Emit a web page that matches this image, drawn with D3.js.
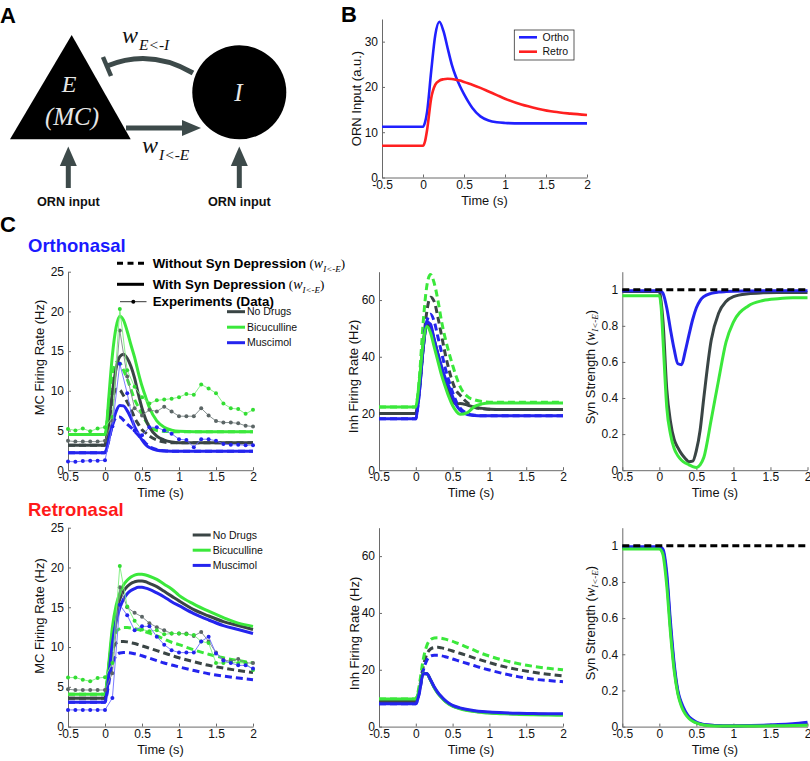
<!DOCTYPE html>
<html>
<head>
<meta charset="utf-8">
<script src="https://cdn.jsdelivr.net/npm/d3@7/dist/d3.min.js"></script>
<style>
html,body{margin:0;padding:0;background:#fff;}
svg{display:block;}
</style>
</head>
<body>
<svg id="fig" width="810" height="761" xmlns="http://www.w3.org/2000/svg"></svg>
<script>
// ================= DATA =================
const xTicks = [-0.5, 0, 0.5, 1, 1.5, 2];
const xTickLabels = ["-0.5", "0", "0.5", "1", "1.5", "2"];
const conditions = ["No Drugs", "Bicuculline", "Muscimol"];
const ornLabels = ["Ortho", "Retro"];

const ornTicks = [0, 10, 20, 30];
const mcTicks = [0, 5, 10, 15, 20, 25];
const inhTicks = [0, 20, 40, 60];
const synTicks = [0, 0.2, 0.4, 0.6, 0.8, 1];
const synTickLabels = ["0", "0.2", "0.4", "0.6", "0.8", "1"];

// model time grid (s)
const tModel = [-0.5, 0, 0.025, 0.05, 0.1, 0.15, 0.2, 0.25, 0.3, 0.35, 0.4, 0.45, 0.5, 0.55, 0.6, 0.7, 0.8, 0.9, 1.0, 1.2, 1.4, 1.6, 1.8, 2.0];
// experiment time grid (s)
const tData = [-0.5, -0.4, -0.3, -0.2, -0.1, 0, 0.1, 0.2, 0.3, 0.4, 0.5, 0.6, 0.7, 0.8, 0.9, 1.0, 1.1, 1.2, 1.3, 1.4, 1.5, 1.6, 1.7, 1.8, 1.9, 2.0];

// Panel B: ORN input
const ornOrtho = [11.2, 11.2, 12.2, 14.5, 23.5, 31.5, 34.4, 32.3, 28.6, 25, 22.3, 20.2, 18.4, 16.8, 15.4, 13.5, 12.6, 12.2, 12.05, 11.95, 11.95, 11.95, 11.95, 11.95];
const ornRetro = [7, 7, 8.0, 10.5, 17.5, 20.5, 21.4, 21.7, 21.8, 21.75, 21.6, 21.4, 21.1, 20.8, 20.5, 19.8, 19.0, 18.2, 17.4, 16.1, 15.2, 14.5, 14.1, 13.8];

// Orthonasal MC firing rate (Hz) - with syn depression (solid)
const orthoMcNodSolid = [3.15, 3.15, 4.2, 6, 9.8, 12.8, 14.3, 14.6, 14.1, 13.1, 11.6, 9.6, 7.8, 6.4, 5.4, 4.3, 3.8, 3.55, 3.45, 3.45, 3.45, 3.45, 3.45, 3.45];
const orthoMcBicSolid = [4.5, 4.5, 6, 9, 14.5, 18, 19.4, 18.9, 17.5, 15.8, 14.2, 12.3, 10.6, 9.2, 7.9, 6.2, 5.4, 5.05, 4.9, 4.85, 4.85, 4.85, 4.85, 4.85];
const orthoMcMusSolid = [2.2, 2.2, 2.8, 3.8, 5.8, 7.4, 8.15, 8.1, 7.5, 6.6, 5.5, 4.6, 3.8, 3.2, 2.85, 2.5, 2.42, 2.4, 2.4, 2.4, 2.4, 2.4, 2.4, 2.4];
// without syn depression (dashed)
const orthoMcNodDash = [3.15, 3.15, 4.2, 5.8, 8.8, 10.2, 10.1, 9.4, 8.6, 7.7, 6.6, 5.8, 5.1, 4.7, 4.3, 3.8, 3.55, 3.45, 3.45, 3.45, 3.45, 3.45, 3.45, 3.45];
const orthoMcBicDash = [4.5, 4.5, 6, 8.5, 12, 13.6, 13.5, 12.6, 11.5, 10.2, 8.9, 8.0, 7.1, 6.2, 5.6, 5.0, 4.9, 4.85, 4.85, 4.85, 4.85, 4.85, 4.85, 4.85];
const orthoMcMusDash = [2.2, 2.2, 2.8, 3.7, 5.6, 6.6, 6.7, 6.3, 5.8, 5.4, 4.9, 4.4, 3.9, 3.4, 3.0, 2.6, 2.45, 2.4, 2.4, 2.4, 2.4, 2.4, 2.4, 2.4];
// experiments
const orthoDataNod = [3.7, 3.6, 3.6, 3.6, 3.6, 3.7, 6.3, 17.6, 11.8, 7.8, 6.9, 7.6, 7.4, 8.0, 7.4, 6.8, 6.8, 6.8, 7.8, 6.9, 6.2, 6.0, 6.0, 5.9, 5.6, 5.5];
const orthoDataBic = [5.2, 5.0, 5.25, 4.9, 5.25, 5.4, 6.7, 20.3, 12.6, 10.5, 9.2, 8.4, 8.8, 8.9, 9.0, 9.2, 9.6, 9.5, 10.8, 10.3, 9.7, 8.4, 7.8, 7.7, 7.1, 7.6];
const orthoDataMus = [1.1, 1.05, 1.15, 1.2, 1.2, 1.25, 5.5, 13.4, 9.7, 5.0, 4.4, 5.4, 5.4, 5.0, 4.6, 3.9, 3.8, 2.9, 3.9, 3.9, 3.7, 3.3, 3.2, 3.2, 3.15, 3.15];

// Orthonasal Inh firing rate (Hz)
const orthoInhNodSolid = [20, 20, 23.5, 29, 43, 51.5, 50.5, 46, 41, 36, 31.5, 27.5, 24.5, 23.3, 23.5, 23.0, 22.2, 21.8, 21.5, 21.4, 21.4, 21.4, 21.4, 21.4];
const orthoInhBicSolid = [22.3, 22.3, 26, 32, 45, 50.7, 48.5, 43.5, 38.5, 33.5, 29.5, 25.8, 22.8, 20.8, 19.7, 20.3, 22.5, 23.4, 23.7, 23.7, 23.7, 23.7, 23.7, 23.7];
const orthoInhMusSolid = [18.1, 18.1, 22, 28, 43, 52.3, 51.5, 46, 41, 36.5, 32.5, 29.5, 26, 23, 21.2, 19.6, 19.3, 19.2, 19.2, 19.2, 19.2, 19.2, 19.2, 19.2];
const orthoInhNodDash = [20, 20, 23.5, 29, 44, 56, 61, 59.5, 54, 47.5, 41, 35.5, 31, 28, 26.5, 23.8, 22.2, 21.7, 21.5, 21.4, 21.4, 21.4, 21.4, 21.4];
const orthoInhBicDash = [22.3, 22.3, 26, 33, 52, 65, 69, 66, 60, 52.5, 46.5, 41.5, 37, 33, 29.6, 26, 24.8, 24.2, 24, 24, 24, 24, 24, 24];
const orthoInhMusDash = [18.1, 18.1, 22, 28, 43, 52.5, 55, 52.5, 47, 41.5, 36, 31.5, 27.5, 24.2, 22, 20, 19.4, 19.2, 19.2, 19.2, 19.2, 19.2, 19.2, 19.2];

// Orthonasal synaptic strength
const orthoSynNoDep = [1, 1, 1, 1, 1, 1, 1, 1, 1, 1, 1, 1, 1, 1, 1, 1, 1, 1, 1, 1, 1, 1, 1, 1];
const orthoSynNod = [0.99, 0.99, 0.93, 0.82, 0.45, 0.27, 0.17, 0.125, 0.09, 0.065, 0.047, 0.05, 0.11, 0.22, 0.4, 0.72, 0.87, 0.935, 0.962, 0.978, 0.983, 0.985, 0.985, 0.985];
const orthoSynBic = [0.967, 0.967, 0.9, 0.72, 0.35, 0.2, 0.12, 0.08, 0.055, 0.04, 0.03, 0.02, 0.015, 0.03, 0.07, 0.28, 0.5, 0.71, 0.82, 0.91, 0.94, 0.95, 0.955, 0.955];
const orthoSynMus = [0.995, 0.995, 0.99, 0.98, 0.9, 0.78, 0.67, 0.59, 0.585, 0.66, 0.75, 0.835, 0.9, 0.94, 0.962, 0.98, 0.987, 0.99, 0.992, 0.993, 0.994, 0.995, 0.995, 0.995];

// Retronasal MC firing rate (Hz)
const retroMcNodSolid = [3.56, 3.56, 5.0, 7.2, 11.7, 14.4, 16.0, 17.0, 17.6, 18.0, 18.2, 18.3, 18.3, 18.2, 18.0, 17.6, 17.0, 16.4, 15.8, 14.7, 13.9, 13.2, 12.7, 12.2];
const retroMcBicSolid = [4.06, 4.06, 5.5, 7.8, 12.5, 15.2, 16.8, 17.8, 18.4, 18.8, 19.05, 19.15, 19.15, 19.05, 18.9, 18.5, 17.9, 17.3, 16.5, 15.4, 14.5, 13.7, 13.0, 12.6];
const retroMcMusSolid = [3.06, 3.06, 4.3, 6.3, 10.5, 13.2, 14.9, 16.0, 16.7, 17.1, 17.35, 17.5, 17.5, 17.4, 17.25, 16.8, 16.3, 15.7, 15.2, 14.2, 13.4, 12.7, 12.2, 11.7];
const retroMcNodDash = [3.56, 3.56, 4.8, 6.5, 9.5, 10.5, 10.7, 10.7, 10.65, 10.55, 10.45, 10.3, 10.15, 10.0, 9.85, 9.55, 9.25, 8.95, 8.65, 8.15, 7.7, 7.35, 7.05, 6.8];
const retroMcBicDash = [4.06, 4.06, 5.5, 7.5, 10.8, 11.9, 12.3, 12.45, 12.45, 12.4, 12.3, 12.2, 12.05, 11.9, 11.75, 11.4, 11.0, 10.6, 10.3, 9.65, 9.1, 8.65, 8.3, 8.0];
const retroMcMusDash = [3.06, 3.06, 4.0, 5.4, 7.9, 8.9, 9.25, 9.3, 9.3, 9.25, 9.15, 9.05, 8.9, 8.75, 8.6, 8.3, 8.0, 7.75, 7.5, 7.05, 6.65, 6.35, 6.1, 5.9];
const retroDataNod = [4.7, 4.6, 4.6, 4.6, 4.6, 4.6, 6.7, 17.5, 15.0, 14.3, 13.8, 13.0, 12.5, 12.1, 11.7, 11.7, 11.7, 11.4, 11.9, 10.7, 9.3, 8.4, 8.2, 8.5, 8.0, 8.0];
const retroDataBic = [6.16, 6.16, 5.9, 5.7, 6.1, 6.2, 8.0, 20.2, 15.1, 13.3, 12.2, 12.0, 12.1, 11.6, 11.7, 11.7, 11.6, 11.5, 10.7, 10.5, 8.0, 8.0, 8.1, 8.0, 8.0, 7.1];
const retroDataMus = [2.1, 2.1, 2.1, 2.1, 2.1, 2.1, 3.6, 15.3, 14.0, 12.1, 12.6, 12.6, 11.3, 10.3, 9.6, 9.3, 9.3, 9.3, 10.7, 11.3, 9.2, 8.3, 8.0, 7.7, 7.7, 7.3];

// Retronasal Inh firing rate (Hz)
const retroInhNodSolid = [8.8, 8.8, 10.3, 12.8, 18.7, 18.6, 16.4, 13.8, 11.8, 10.3, 9.0, 8.0, 7.3, 6.8, 6.4, 5.8, 5.4, 5.1, 4.9, 4.65, 4.5, 4.4, 4.3, 4.25];
const retroInhBicSolid = [9.7, 9.7, 11, 13.5, 18.8, 18.6, 16.3, 13.7, 11.7, 10.2, 8.9, 7.9, 7.2, 6.7, 6.3, 5.7, 5.3, 5.0, 4.75, 4.5, 4.3, 4.15, 4.05, 4.0];
const retroInhMusSolid = [8.0, 8.0, 9.5, 12.2, 18.6, 18.7, 16.5, 14, 12, 10.5, 9.2, 8.2, 7.5, 7.0, 6.6, 6.0, 5.6, 5.3, 5.1, 4.85, 4.7, 4.6, 4.5, 4.5];
const retroInhNodDash = [8.8, 8.8, 10.3, 13.5, 21, 25.5, 27.3, 27.8, 27.9, 27.7, 27.4, 27.0, 26.6, 26.2, 25.8, 25.0, 24.1, 23.3, 22.5, 21.1, 20.0, 19.1, 18.4, 17.8];
const retroInhBicDash = [9.7, 9.7, 11.5, 15, 23.5, 28.5, 30.6, 31.2, 31.3, 31.1, 30.8, 30.4, 30.0, 29.5, 29.0, 27.9, 26.8, 25.7, 24.8, 23.3, 22.1, 21.2, 20.5, 20.0];
const retroInhMusDash = [8.0, 8.0, 9.5, 12.2, 19.5, 23.3, 24.8, 25.1, 25.1, 24.9, 24.6, 24.2, 23.8, 23.4, 23.0, 22.2, 21.4, 20.6, 19.9, 18.6, 17.5, 16.7, 16.2, 15.8];

// Retronasal synaptic strength
const retroSynNoDep = [1, 1, 1, 1, 1, 1, 1, 1, 1, 1, 1, 1, 1, 1, 1, 1, 1, 1, 1, 1, 1, 1, 1, 1];
const retroSynNod = [0.99, 0.99, 0.985, 0.97, 0.82, 0.55, 0.33, 0.19, 0.12, 0.078, 0.05, 0.034, 0.022, 0.015, 0.01, 0.007, 0.005, 0.004, 0.004, 0.005, 0.006, 0.008, 0.01, 0.014];
const retroSynBic = [0.982, 0.982, 0.975, 0.95, 0.78, 0.52, 0.31, 0.18, 0.11, 0.07, 0.045, 0.03, 0.02, 0.013, 0.009, 0.005, 0.004, 0.004, 0.004, 0.004, 0.004, 0.005, 0.006, 0.008];
const retroSynMus = [0.995, 0.995, 0.99, 0.98, 0.85, 0.58, 0.35, 0.2, 0.13, 0.085, 0.055, 0.038, 0.025, 0.017, 0.012, 0.008, 0.006, 0.005, 0.005, 0.006, 0.008, 0.011, 0.016, 0.024];

// ================= STYLE =================
const SANS = "'Liberation Sans', Arial, Helvetica, sans-serif";
const SERIF = "'Liberation Serif', 'DejaVu Serif', serif";
const COL = { nod: "#3a4545", bic: "#3be83b", mus: "#2424ee" };
const DCOL = { nod: "#7c8787", bic: "#7cee7c", mus: "#6c6cff" };
const DOT = { nod: "#5c6666", bic: "#33dd33", mus: "#2222ee" };
const AX = "#6a6a6a";
const ARROW = "#3d4a4a";

const svg = d3.select("#fig");

// ================= HELPERS =================
function makeAxes(o) {
  const x = d3.scaleLinear().domain([-0.5, 2]).range([o.left, o.right]);
  const y = d3.scaleLinear().domain(o.ydom).range([o.bottom, o.top]);
  const g = svg.append("g");
  const gx = g.append("g").attr("transform", `translate(0,${o.bottom})`)
    .call(d3.axisBottom(x).tickValues(xTicks).tickFormat((d, i) => xTickLabels[i])
      .tickSizeInner(-3).tickSizeOuter(0).tickPadding(2.5));
  const gy = g.append("g").attr("transform", `translate(${o.left},0)`)
    .call(d3.axisLeft(y).tickValues(o.yticks).tickFormat((d, i) => o.ylabels ? o.ylabels[i] : String(d))
      .tickSizeInner(-3).tickSizeOuter(0).tickPadding(4));
  [gx, gy].forEach(a => {
    a.selectAll("path,line").attr("stroke", AX).attr("stroke-width", 1);
    a.selectAll("text").attr("fill", "#111").style("font-family", SANS).style("font-size", "12px");
  });
  g.append("text").attr("x", (o.left + o.right) / 2).attr("y", o.bottom + 27)
    .attr("text-anchor", "middle").style("font-family", SANS).style("font-size", "12.8px")
    .attr("fill", "#111").text("Time (s)");
  return { x, y, g };
}

function ylabel(cx, cy, label) {
  return svg.append("text")
    .attr("transform", `translate(${cx + 4.6},${cy}) rotate(-90)`)
    .attr("text-anchor", "middle")
    .style("font-family", SANS).style("font-size", "13px").attr("fill", "#111")
    .text(label);
}

function synLabel(cx, cy) {
  const t = svg.append("text")
    .attr("transform", `translate(${cx + 4.6},${cy}) rotate(-90)`)
    .attr("text-anchor", "middle")
    .style("font-family", SANS).style("font-size", "13px").attr("fill", "#111");
  t.append("tspan").text("Syn Strength (");
  t.append("tspan").style("font-family", SERIF).style("font-style", "italic").style("font-size", "14px").text("w");
  t.append("tspan").style("font-family", SERIF).style("font-style", "italic").style("font-size", "9px").attr("dy", 3).text("I<-E");
  t.append("tspan").attr("dy", -3).text(")");
}

function drawLine(ax, times, vals, color, width, dash) {
  const line = d3.line().x((d, i) => ax.x(times[i])).y(d => ax.y(d)).curve(d3.curveMonotoneX);
  ax.g.append("path").datum(vals).attr("d", line).attr("fill", "none")
    .attr("stroke", color).attr("stroke-width", width)
    .attr("stroke-dasharray", dash || null).attr("stroke-linejoin", "round");
}

function drawData(ax, vals, key) {
  const line = d3.line().x((d, i) => ax.x(tData[i])).y(d => ax.y(d));
  ax.g.append("path").datum(vals).attr("d", line).attr("fill", "none")
    .attr("stroke", DCOL[key]).attr("stroke-width", 0.9);
  ax.g.selectAll(null).data(vals).enter().append("circle")
    .attr("cx", (d, i) => ax.x(tData[i])).attr("cy", d => ax.y(d)).attr("r", 2)
    .attr("fill", DOT[key]);
}

function condLegend(x0, y0, dy) {
  const keys = ["nod", "bic", "mus"];
  keys.forEach((k, i) => {
    const yy = y0 + i * dy;
    svg.append("line").attr("x1", x0).attr("x2", x0 + 18).attr("y1", yy).attr("y2", yy)
      .attr("stroke", COL[k]).attr("stroke-width", 3);
    svg.append("text").attr("x", x0 + 20).attr("y", yy + 3.7)
      .style("font-family", SANS).style("font-size", "10.5px").attr("fill", "#111").text(conditions[i]);
  });
}

function panelLabel(txt, x, y) {
  svg.append("text").attr("x", x).attr("y", y).style("font-family", SANS)
    .style("font-weight", "bold").style("font-size", "22px").attr("fill", "#000").text(txt);
}

// ================= PANEL A =================
panelLabel("A", 0, 23);
panelLabel("B", 341, 22);
panelLabel("C", 0, 231.5);

const gA = svg.append("g");
gA.append("polygon").attr("points", "71.7,35 10,139.3 130.7,139.3").attr("fill", "#000");
gA.append("circle").attr("cx", 239.3).attr("cy", 92.3).attr("r", 47).attr("fill", "#000");
gA.append("text").attr("x", 69).attr("y", 91.7).attr("text-anchor", "middle")
  .style("font-family", SERIF).style("font-style", "italic").style("font-size", "24px").attr("fill", "#e6e6e6").text("E");
gA.append("text").attr("x", 72).attr("y", 124.5).attr("text-anchor", "middle")
  .style("font-family", SERIF).style("font-style", "italic").style("font-size", "25px").attr("fill", "#e6e6e6").text("(MC)");
gA.append("text").attr("x", 238.5).attr("y", 101).attr("text-anchor", "middle")
  .style("font-family", SERIF).style("font-style", "italic").style("font-size", "25px").attr("fill", "#e6e6e6").text("I");

// inhibitory connection
gA.append("path").attr("d", "M193,73 Q150,48 107,66").attr("fill", "none").attr("stroke", ARROW).attr("stroke-width", 5);
gA.append("line").attr("x1", 103).attr("y1", 57).attr("x2", 111).attr("y2", 76).attr("stroke", ARROW).attr("stroke-width", 4.5);
// excitatory connection
gA.append("line").attr("x1", 126).attr("y1", 128).attr("x2", 186).attr("y2", 128).attr("stroke", ARROW).attr("stroke-width", 5);
gA.append("polygon").attr("points", "201,128 182,120 182,136").attr("fill", ARROW);
// ORN input arrows
[68.3, 239.3].forEach(xx => {
  gA.append("line").attr("x1", xx).attr("y1", 188).attr("x2", xx).attr("y2", 164).attr("stroke", ARROW).attr("stroke-width", 5);
  gA.append("polygon").attr("points", `${xx},146.5 ${xx - 8.5},166 ${xx + 8.5},166`).attr("fill", ARROW);
  gA.append("text").attr("x", xx).attr("y", 205.5).attr("text-anchor", "middle")
    .style("font-family", SANS).style("font-weight", "bold").style("font-size", "12.7px").attr("fill", "#111").text("ORN input");
});
function wLabel(x, y, sub) {
  const t = gA.append("text").attr("x", x).attr("y", y).style("font-family", SERIF).style("font-style", "italic").attr("fill", "#111");
  t.append("tspan").style("font-size", "24px").text("w");
  t.append("tspan").style("font-size", "15.5px").attr("dy", 7.5).attr("dx", 1).text(sub);
}
wLabel(122, 42.5, "E<-I");
wLabel(142, 152.5, "I<-E");

// ================= PANEL B =================
const axB = makeAxes({ left: 382, right: 587, top: 19, bottom: 177.5, ydom: [0, 35], yticks: ornTicks });
ylabel(356, 98.5, "ORN Input (a.u.)");
drawLine(axB, tModel, ornOrtho, "#2020ff", 2.6);
drawLine(axB, tModel, ornRetro, "#ff2020", 2.6);
svg.append("rect").attr("x", 514.3).attr("y", 30).attr("width", 59.7).attr("height", 30)
  .attr("fill", "#fff").attr("stroke", "#333").attr("stroke-width", 0.8);
[["#2020ff", 37.3], ["#ff2020", 51.7]].forEach((d, i) => {
  svg.append("line").attr("x1", 519).attr("x2", 537).attr("y1", d[1]).attr("y2", d[1]).attr("stroke", d[0]).attr("stroke-width", 2.6);
  svg.append("text").attr("x", 542.5).attr("y", d[1] + 3.7).style("font-family", SANS).style("font-size", "10.5px").attr("fill", "#111").text(ornLabels[i]);
});

// ================= PANEL C =================
svg.append("text").attr("x", 28).attr("y", 251.5).style("font-family", SANS).style("font-weight", "bold")
  .style("font-size", "18.5px").attr("fill", "#1a1aff").text("Orthonasal");
svg.append("text").attr("x", 28).attr("y", 516).style("font-family", SANS).style("font-weight", "bold")
  .style("font-size", "18.5px").attr("fill", "#ff1a1a").text("Retronasal");

const cols = [{ left: 68, right: 253 }, { left: 379, right: 563 }, { left: 622.3, right: 807.5 }];
const rows = [{ top: 271.7, bottom: 470.2 }, { top: 527.7, bottom: 726.6 }];

// ---- ortho MC
const oMC = makeAxes({ ...cols[0], ...rows[0], ydom: [0, 25], yticks: mcTicks });
ylabel(39, 357.5, "MC Firing Rate (Hz)");
drawLine(oMC, tModel, orthoMcNodDash, COL.nod, 3, "7,4");
drawLine(oMC, tModel, orthoMcBicDash, COL.bic, 3, "7,4");
drawLine(oMC, tModel, orthoMcMusDash, COL.mus, 3, "7,4");
drawLine(oMC, tModel, orthoMcNodSolid, COL.nod, 3);
drawLine(oMC, tModel, orthoMcBicSolid, COL.bic, 3);
drawLine(oMC, tModel, orthoMcMusSolid, COL.mus, 3);
drawData(oMC, orthoDataNod, "nod");
drawData(oMC, orthoDataBic, "bic");
drawData(oMC, orthoDataMus, "mus");
condLegend(227, 311.7, 15.5);

// top model legend
function modelLegendRow(y, type, label) {
  if (type === "dash") {
    svg.append("line").attr("x1", 117).attr("x2", 144).attr("y1", y).attr("y2", y)
      .attr("stroke", "#000").attr("stroke-width", 3).attr("stroke-dasharray", "6,4.5");
  } else if (type === "solid") {
    svg.append("line").attr("x1", 117).attr("x2", 144).attr("y1", y).attr("y2", y)
      .attr("stroke", "#000").attr("stroke-width", 3);
  } else {
    svg.append("line").attr("x1", 120).attr("x2", 146.5).attr("y1", y).attr("y2", y)
      .attr("stroke", "#000").attr("stroke-width", 0.8);
    svg.append("circle").attr("cx", 133.3).attr("cy", y).attr("r", 2).attr("fill", "#000");
  }
  const t = svg.append("text").attr("x", 152.7).attr("y", y + 4.7).style("font-family", SANS)
    .style("font-size", "13.3px").attr("fill", "#000");
  t.append("tspan").style("font-weight", "bold").text(label);
  if (type !== "data") {
    t.append("tspan").style("font-family", SERIF).style("font-size", "13px").text(" (");
    t.append("tspan").style("font-family", SERIF).style("font-style", "italic").style("font-size", "14px").text("w");
    t.append("tspan").style("font-family", SERIF).style("font-style", "italic").style("font-size", "9px").attr("dy", 3.5).text("I<-E");
    t.append("tspan").style("font-family", SERIF).style("font-size", "13px").attr("dy", -3.5).text(")");
  }
}
modelLegendRow(263.3, "dash", "Without Syn Depression");
modelLegendRow(284.3, "solid", "With Syn Depression");
modelLegendRow(301.7, "data", "Experiments (Data)");

// ---- ortho Inh
const oInh = makeAxes({ ...cols[1], ...rows[0], ydom: [0, 70], yticks: inhTicks });
ylabel(353, 376.5, "Inh Firing Rate (Hz)");
drawLine(oInh, tModel, orthoInhNodDash, COL.nod, 3, "7,4");
drawLine(oInh, tModel, orthoInhBicDash, COL.bic, 3, "7,4");
drawLine(oInh, tModel, orthoInhMusDash, COL.mus, 3, "7,4");
drawLine(oInh, tModel, orthoInhNodSolid, COL.nod, 3);
drawLine(oInh, tModel, orthoInhMusSolid, COL.mus, 3);
drawLine(oInh, tModel, orthoInhBicSolid, COL.bic, 3);

// ---- ortho Syn
const oSyn = makeAxes({ ...cols[2], ...rows[0], ydom: [0, 1.1], yticks: synTicks, ylabels: synTickLabels });
synLabel(590.5, 367);
drawLine(oSyn, tModel, orthoSynNod, COL.nod, 3);
drawLine(oSyn, tModel, orthoSynBic, COL.bic, 3);
drawLine(oSyn, tModel, orthoSynMus, COL.mus, 3);
drawLine(oSyn, tModel, orthoSynNoDep, "#000", 3, "7,4");

// ---- retro MC
const rMC = makeAxes({ ...cols[0], ...rows[1], ydom: [0, 25], yticks: mcTicks });
ylabel(39, 616, "MC Firing Rate (Hz)");
drawLine(rMC, tModel, retroMcNodDash, COL.nod, 3, "7,4");
drawLine(rMC, tModel, retroMcBicDash, COL.bic, 3, "7,4");
drawLine(rMC, tModel, retroMcMusDash, COL.mus, 3, "7,4");
drawLine(rMC, tModel, retroMcNodSolid, COL.nod, 3);
drawLine(rMC, tModel, retroMcBicSolid, COL.bic, 3);
drawLine(rMC, tModel, retroMcMusSolid, COL.mus, 3);
drawData(rMC, retroDataNod, "nod");
drawData(rMC, retroDataBic, "bic");
drawData(rMC, retroDataMus, "mus");
condLegend(192.7, 535, 15.2);

// ---- retro Inh
const rInh = makeAxes({ ...cols[1], ...rows[1], ydom: [0, 70], yticks: inhTicks });
ylabel(354, 633.5, "Inh Firing Rate (Hz)");
drawLine(rInh, tModel, retroInhNodDash, COL.nod, 3, "7,4");
drawLine(rInh, tModel, retroInhBicDash, COL.bic, 3, "7,4");
drawLine(rInh, tModel, retroInhMusDash, COL.mus, 3, "7,4");
drawLine(rInh, tModel, retroInhNodSolid, COL.nod, 3);
drawLine(rInh, tModel, retroInhBicSolid, COL.bic, 3);
drawLine(rInh, tModel, retroInhMusSolid, COL.mus, 3);

// ---- retro Syn
const rSyn = makeAxes({ ...cols[2], ...rows[1], ydom: [0, 1.1], yticks: synTicks, ylabels: synTickLabels });
synLabel(590.5, 623);
drawLine(rSyn, tModel, retroSynNod, COL.nod, 3);
drawLine(rSyn, tModel, retroSynMus, COL.mus, 3);
drawLine(rSyn, tModel, retroSynBic, COL.bic, 3);
drawLine(rSyn, tModel, retroSynNoDep, "#000", 3, "7,4");
</script>
</body>
</html>
